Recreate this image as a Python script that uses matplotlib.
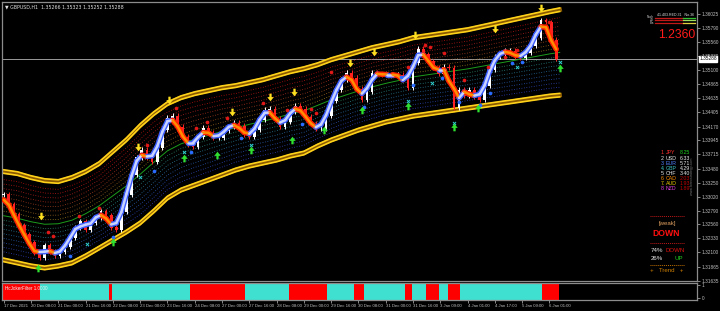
import matplotlib
matplotlib.use('Agg')
import matplotlib.pyplot as plt
import matplotlib.transforms as mtransforms
from matplotlib.collections import LineCollection
import numpy as np
import pandas as pd

# GBPUSD H1 - closes, one every 3 bars
closes = [
    1.33049, 1.32885, 1.32720, 1.32540, 1.32392, 1.32260, 1.32096, 1.32014, 1.32211, 1.32112,
    1.32046, 1.32112, 1.32194, 1.32342, 1.32507, 1.32605, 1.32474, 1.32589, 1.32671, 1.32770,
    1.32704, 1.32507, 1.32474, 1.32770, 1.33049, 1.33378, 1.33658, 1.33789, 1.33658, 1.33592,
    1.33822, 1.34118, 1.34315, 1.34348, 1.34167, 1.34003, 1.33871, 1.33838, 1.34003, 1.34151,
    1.34069, 1.33986, 1.33986, 1.34101, 1.34167, 1.34233, 1.34184, 1.34036, 1.34003, 1.34118,
    1.34282, 1.34447, 1.34463, 1.34299, 1.34167, 1.34249, 1.34414, 1.34512, 1.34463, 1.34332,
    1.34216, 1.34134, 1.34134, 1.34348, 1.34595, 1.34775, 1.34940, 1.35055, 1.34973, 1.34792,
    1.34611, 1.34743, 1.35055, 1.35038, 1.35022, 1.35038, 1.35022, 1.35022, 1.34989, 1.34808,
    1.35219, 1.35450, 1.35367, 1.35252, 1.35137, 1.35038, 1.35154, 1.35137, 1.34480, 1.34775,
    1.34677, 1.34775, 1.34660, 1.34611, 1.34841, 1.35104, 1.35318, 1.35367, 1.35417, 1.35417,
    1.35318, 1.35302, 1.35384, 1.35499, 1.35630, 1.35926, 1.35893, 1.35598, 1.35288]
bar_step = 3

# outer channel lines, every 8 bars
band_bars = list(range(0, 321, 8)) + [326]
upper_band = [
    1.33460, 1.33428, 1.33362, 1.33312, 1.33296, 1.33362, 1.33460, 1.33592, 1.33789, 1.33986,
    1.34217, 1.34414, 1.34578, 1.34677, 1.34743, 1.34792, 1.34841, 1.34874, 1.34924, 1.34973,
    1.35039, 1.35104, 1.35154, 1.35219, 1.35302, 1.35367, 1.35433, 1.35499, 1.35548, 1.35598,
    1.35663, 1.35696, 1.35729, 1.35762, 1.35795, 1.35844, 1.35893, 1.35943, 1.35992, 1.36041,
    1.36091, 1.36124]
lower_band = [
    1.31948, 1.31899, 1.31849, 1.31816, 1.31849, 1.31899, 1.32014, 1.32145, 1.32277, 1.32408,
    1.32556, 1.32754, 1.32967, 1.33099, 1.33181, 1.33263, 1.33345, 1.33428, 1.33493, 1.33543,
    1.33592, 1.33658, 1.33707, 1.33822, 1.33921, 1.34003, 1.34085, 1.34151, 1.34217, 1.34266,
    1.34315, 1.34348, 1.34381, 1.34414, 1.34447, 1.34480, 1.34513, 1.34545, 1.34578, 1.34611,
    1.34644, 1.34660]

# signals (bar, price)
sell_arrows = [(22, 1.32704), (79, 1.33838), (97, 1.34611), (134, 1.34414), (156, 1.34660),
               (170, 1.34743), (203, 1.35219), (217, 1.35400), (241, 1.35680), (288, 1.35778),
               (315, 1.36124)]
buy_arrows = [(20, 1.31849), (64, 1.32277), (106, 1.33658), (125, 1.33707), (145, 1.33789),
              (169, 1.33954), (188, 1.34118), (210, 1.34447), (237, 1.34513), (264, 1.34168),
              (278, 1.34480), (326, 1.35137)]
red_dots = [(26, 1.32441), (29, 1.32375), (44, 1.32704), (56, 1.32836), (84, 1.33871),
            (101, 1.34480), (113, 1.34151), (119, 1.34249), (131, 1.34315), (152, 1.34562),
            (166, 1.34447), (180, 1.34463), (183, 1.34398), (192, 1.35071), (237, 1.35154),
            (247, 1.35515), (250, 1.35482), (258, 1.35384), (270, 1.34940), (284, 1.35154),
            (294, 1.35318), (301, 1.35433), (320, 1.35893)]
blue_dots = [(39, 1.32046), (64, 1.32359), (88, 1.33444), (110, 1.33756), (139, 1.33986),
             (175, 1.34216), (211, 1.34496), (233, 1.34989), (240, 1.34858), (257, 1.34973),
             (267, 1.34578), (279, 1.34529), (285, 1.34726), (298, 1.35219), (304, 1.35236)]
cyan_marks = [(49, 1.32244), (80, 1.33345), (106, 1.33756), (145, 1.33871), (237, 1.34595),
              (251, 1.34891), (264, 1.34233), (301, 1.35154), (326, 1.35236)]

# filter sub window: start bar of each block, 0 = down (red), 1 = up (cyan)
filter_starts = [0, 22, 62, 64, 110, 142, 168, 190, 206, 212, 236, 240, 248, 256, 261, 268, 316]
filter_state = [0, 1, 0, 1, 0, 1, 0, 1, 0, 1, 0, 1, 0, 1, 0, 1, 0]
filter_end = 326

price_ticks = [1.36025, 1.35790, 1.35560, 1.35330, 1.35100, 1.34865, 1.34635, 1.34405, 1.34170,
               1.33945, 1.33715, 1.33480, 1.33250, 1.33020, 1.32790, 1.32560, 1.32330, 1.32100,
               1.31865, 1.31635]
time_labels = ['17 Dec 2021', '20 Dec 08:00', '21 Dec 00:00', '21 Dec 16:00', '22 Dec 08:00',
               '23 Dec 00:00', '23 Dec 16:00', '24 Dec 08:00', '27 Dec 00:00', '27 Dec 16:00',
               '28 Dec 08:00', '29 Dec 00:00', '29 Dec 16:00', '30 Dec 08:00', '31 Dec 00:00',
               '31 Dec 16:00', '3 Jan 09:00', '4 Jan 01:00', '4 Jan 17:00', '5 Jan 09:00',
               '6 Jan 01:00']

strength_cur = ['JPY', 'USD', 'EUR', 'GBP', 'CHF', 'CAD', 'AUD', 'NZD']
strength_val = [8.25, 6.33, 5.71, 4.29, 3.40, 2.03, 1.93, 1.89]
cur_colors = ['#ff3030', '#e8e8e8', '#5080ff', '#40c8c8', '#e8e8e8', '#ff8c00', '#e8c800', '#e040e0']
val_colors = ['#20d020', '#e8e8e8', '#e8e8e8', '#e8e8e8', '#e8e8e8', '#c00000', '#c00000', '#c00000']

last_price = 1.35288

sans = ['Liberation Sans', 'DejaVu Sans']
plt.rcParams['font.family'] = sans

W, H = 720, 311
fig = plt.figure(figsize=(7.2, 3.11), dpi=100, facecolor='black')
ax = fig.add_axes([2 / W, 30 / H, 695 / W, 279 / H], facecolor='black')
sub = fig.add_axes([2 / W, 11 / H, 695 / W, 17 / H], facecolor='black', sharex=ax)

def fpos(x, y):
    return x / W, 1 - y / H

# ---- channel ----
bb = np.array(band_bars)
up = np.array(upper_band)
lo = np.array(lower_band)
mid = (up + lo) / 2
off = 0.00058
for edge, sgn in [(up, -1), (lo, 1)]:
    ax.plot(bb, edge + sgn * off / 2, color='#8a5a00', lw=3.2, zorder=2)
    ax.plot(bb, edge, color='#ffd21a', lw=1.2, zorder=2)
    ax.plot(bb, edge + sgn * off, color='#ffd21a', lw=1.2, zorder=2)
up_cols = ['#c01010', '#c01818', '#b82020', '#b03020', '#a84020', '#a05020', '#a06820', '#a08020']
lo_cols = ['#2e8c6e', '#2a8a8a', '#2a7f9a', '#2a70a8', '#2a60b0', '#2a55b8', '#3048b8', '#3040c0']
up_in = up - off * 1.5
lo_in = lo + off * 1.5
for k in range(8):
    f = (k + 1) / 9
    ax.plot(bb, up_in + (mid - up_in) * f, color=up_cols[k], lw=0.6, ls=(0, (1, 2)), zorder=1)
    ax.plot(bb, mid + (lo_in - mid) * f, color=lo_cols[k], lw=0.6, ls=(0, (1, 2)), zorder=1)
ax.plot(bb, mid, color='#1c9c1c', lw=0.7, zorder=1)

# ---- candles ----
c = np.array(closes)
o = np.concatenate([[c[0]], c[:-1]])
x = np.arange(len(c)) * bar_step
hi = np.maximum(o, c) + 0.0004
lw_ = np.minimum(o, c) - 0.0004
bull = c >= o
for m, col in [(bull, '#ffffff'), (~bull, '#ff2020')]:
    ax.vlines(x[m], lw_[m], hi[m], color=col, lw=0.7, zorder=3)
    ax.bar(x[m], np.abs(c - o)[m] + 0.00005, bottom=np.minimum(o, c)[m], width=1.6,
           color=col, zorder=3)

# ---- trend line ----
smooth = pd.Series(closes).rolling(3, center=True, min_periods=1).mean().values
segs, outer, inner = [], [], []
for i in range(len(smooth) - 1):
    segs.append([(x[i], smooth[i]), (x[i + 1], smooth[i + 1])])
    if smooth[i + 1] >= smooth[i]:
        outer.append('#3a5cff'); inner.append('#c8d2ff')
    else:
        outer.append('#ff2000'); inner.append('#ff8c00')
ax.add_collection(LineCollection(segs, colors=outer, linewidths=3.8, zorder=4, capstyle='round'))
ax.add_collection(LineCollection(segs, colors=inner, linewidths=1.8, zorder=4, capstyle='round'))

# ---- signals ----
down_arrow = [(-0.3, 1), (0.3, 1), (0.3, 0.1), (0.85, 0.1), (0, -1), (-0.85, 0.1), (-0.3, 0.1)]
up_arrow = [(px, -py) for px, py in down_arrow]
ax.scatter(*zip(*sell_arrows), marker=down_arrow, s=30, color='#ffe020', zorder=6, lw=0)
ax.scatter(*zip(*buy_arrows), marker=up_arrow, s=30, color='#30e030', zorder=6, lw=0)
ax.scatter(*zip(*red_dots), s=7, color='#e01818', zorder=5, lw=0)
ax.scatter(*zip(*blue_dots), s=7, color='#2a6cff', zorder=5, lw=0)
ax.scatter(*zip(*cyan_marks), marker='x', s=5, color='#30d0d0', zorder=5, lw=0.7)

# ---- current price ----
ax.axhline(last_price, color='#9a9a9a', lw=0.7, zorder=0)
trans = mtransforms.blended_transform_factory(ax.transAxes, ax.transData)
ax.text(1.003, last_price, '%.5f' % last_price, transform=trans, fontsize=3.4, color='black',
        va='center', ha='left', zorder=10, clip_on=False,
        bbox=dict(boxstyle='square,pad=0.12', fc='white', ec='white'))

# ---- axes ----
ax.set_xlim(-1, 406.5)
ax.set_ylim(1.31630, 1.36222)
ax.yaxis.tick_right()
ax.set_yticks(price_ticks)
ax.set_yticklabels(['%.5f' % t for t in price_ticks])
ax.tick_params(axis='y', colors='#bfbfbf', labelsize=3.4, length=2, pad=1.2, width=0.5)
ax.tick_params(axis='x', bottom=False, labelbottom=False)
for s in ax.spines.values():
    s.set_color('#8c8c8c'); s.set_linewidth(0.9)
ax.text(0.004, 0.99, '\u25bc GBPUSD,H1  1.35266 1.35323 1.35252 1.35288', transform=ax.transAxes,
        fontsize=3.4, color='#e0e0e0', va='top', ha='left', family=['DejaVu Sans'])

# ---- filter sub window ----
ends = filter_starts[1:] + [filter_end]
for s0, s1, st in zip(filter_starts, ends, filter_state):
    sub.axvspan(s0 - 0.5, s1 - 0.5, color='#40e0d0' if st else '#ff0000', lw=0)
sub.set_ylim(-0.12, 1.12)
sub.yaxis.tick_right()
sub.set_yticks([0, 1])
sub.set_yticklabels(['0', '1'])
sub.tick_params(axis='y', colors='#bfbfbf', labelsize=3.4, length=2, pad=1.2, width=0.5)
sub.set_xticks(range(0, 321, 16))
sub.set_xticklabels(time_labels, ha='left')
sub.tick_params(axis='x', colors='#bfbfbf', labelsize=3.1, length=2, pad=1.2, width=0.5)
for s in sub.spines.values():
    s.set_color('#8c8c8c'); s.set_linewidth(0.9)
sub.text(0.004, 0.85, 'HcJokerFilter 1.0000', transform=sub.transAxes, fontsize=3.3,
         color='#f0f0f0', va='top', ha='left')

# ---- right hand panels ----
fig.text(*fpos(657, 14.5), '41.403.RED.31   No.36', fontsize=2.6, color='#e0e0e0',
         ha='left', va='center')
for yy, lab, c1, c2 in [(17.5, 'Nach', '#c01818', '#30c030'), (20, 'ZS', '#c01818', '#a0e060'),
                        (22.5, 'Bla', '#c01818', '#e0d040')]:
    fig.add_artist(plt.Line2D([655 / W, 683 / W], [1 - yy / H] * 2, color=c1, lw=0.9))
    fig.add_artist(plt.Line2D([683 / W, 695 / W], [1 - yy / H] * 2, color=c2, lw=0.9))
    fig.text(*fpos(654, yy), lab, fontsize=2.2, color='#d0d0d0', ha='right', va='center')
fig.text(*fpos(677, 35), '1.2360', fontsize=8.7, color='#ff1a1a', ha='center', va='center')

for i, (cur, val) in enumerate(zip(strength_cur, strength_val)):
    yy = 153 + 5.1 * i
    fig.text(*fpos(665, yy), '%d.' % (i + 1), fontsize=3.8, color=cur_colors[i], ha='right',
             va='center')
    fig.text(*fpos(666, yy), cur, fontsize=3.8, color=cur_colors[i], ha='left', va='center')
    fig.text(*fpos(680, yy), '%.2f' % val, fontsize=3.8, color=val_colors[i], ha='left',
             va='center')
fig.text(*fpos(692, 176), 'www.forexstrategy.com', fontsize=2.6, color='#707070', rotation=90,
         ha='center', va='center')

for yy, col in [(216, '#c01818'), (243, '#c01818'), (265, '#c07000')]:
    fig.add_artist(plt.Line2D([650 / W, 684 / W], [1 - yy / H] * 2, color=col, lw=0.7,
                              ls=(0, (1, 1))))
fig.text(*fpos(667, 224), '[weak]', fontsize=4.4, color='#e0a060', ha='center', va='center')
fig.text(*fpos(666, 234), 'DOWN', fontsize=6.2, color='#ff1010', ha='center', va='center',
         weight='bold')
fig.text(*fpos(651, 250), '74%', fontsize=4.4, color='#e8e8e8', ha='left', va='center')
fig.text(*fpos(666, 250), 'DOWN', fontsize=4.4, color='#e01010', ha='left', va='center')
fig.text(*fpos(651, 259), '26%', fontsize=4.4, color='#e8e8e8', ha='left', va='center')
fig.text(*fpos(683, 259), 'UP', fontsize=4.4, color='#20d020', ha='right', va='center')
fig.text(*fpos(667, 270), '+   Trend   +', fontsize=4.4, color='#d08000', ha='center', va='center')

fig.savefig('out.png', dpi=100, facecolor='black')
